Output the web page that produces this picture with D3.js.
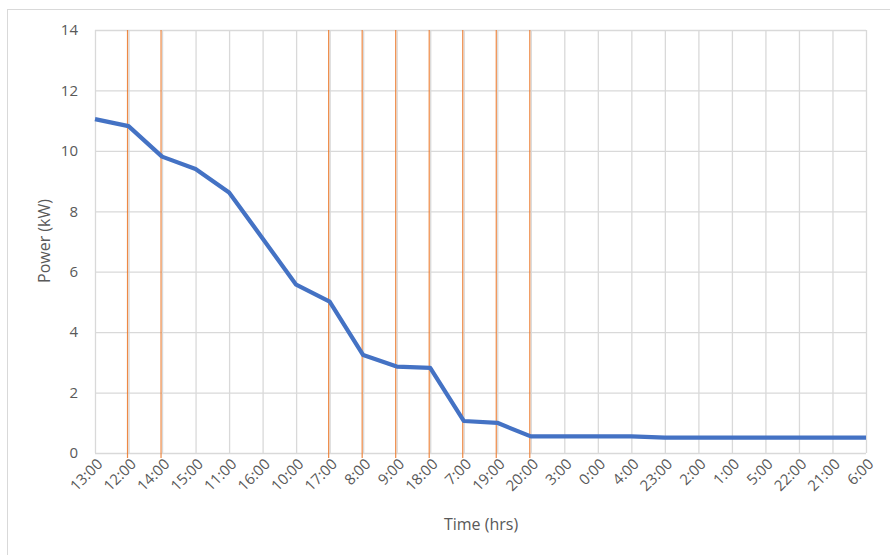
<!DOCTYPE html>
<html><head><meta charset="utf-8">
<script src="https://cdn.jsdelivr.net/npm/d3@7"></script>
<style>body{margin:0;background:#fff;} text{font-family:"Open Sans","Liberation Sans",sans-serif;fill:#595959;}</style>
</head><body>
<svg id="c" width="890" height="555"></svg>
<script>
const categories = ["13:00","12:00","14:00","15:00","11:00","16:00","10:00","17:00","8:00","9:00","18:00","7:00","19:00","20:00","3:00","0:00","4:00","23:00","2:00","1:00","5:00","22:00","21:00","6:00"];
const power = [11.05,10.82,9.81,9.40,8.62,7.10,5.57,5.01,3.24,2.86,2.82,1.06,1.00,0.55,0.55,0.55,0.55,0.51,0.51,0.51,0.51,0.51,0.51,0.51];
const markedTimes = ["12:00","14:00","17:00","8:00","9:00","18:00","7:00","19:00","20:00"];
const yTicks = [0,2,4,6,8,10,12,14];

const svg = d3.select("#c");
const m = {l:95, r:866, t:30, b:453};
svg.append("rect").attr("x",7.5).attr("y",9.5).attr("width",900).attr("height",600)
  .attr("fill","none").attr("stroke","#d9d9d9").attr("stroke-width",1);

const x = d3.scalePoint().domain(categories).range([m.l, m.r]);
const y = d3.scaleLinear().domain([0,14]).range([m.b, m.t]);

const gy = svg.append("g").attr("transform",`translate(${m.l},0)`)
  .call(d3.axisLeft(y).tickValues(yTicks).tickSize(-(m.r-m.l)).tickFormat(""));
gy.select(".domain").remove();
gy.selectAll("line").attr("stroke","#d9d9d9").attr("stroke-width",1.3);

const gx = svg.append("g").attr("transform",`translate(0,${m.b})`)
  .call(d3.axisBottom(x).tickSize(-(m.b-m.t)).tickFormat(""));
gx.select(".domain").remove();
gx.selectAll("line").attr("stroke","#d9d9d9").attr("stroke-width",1.3);

const yl = svg.append("g").attr("transform",`translate(${m.l},0)`)
  .call(d3.axisLeft(y).tickValues(yTicks).tickSize(0).tickPadding(17));
yl.select(".domain").remove();
yl.selectAll("text").attr("font-size",15).style("fill","#595959");

const xl = svg.append("g").attr("transform",`translate(0,${m.b})`)
  .call(d3.axisBottom(x).tickSize(0).tickPadding(0));
xl.select(".domain").remove();
xl.selectAll("text").attr("font-size",15).style("fill","#595959")
  .attr("text-anchor","end").attr("dy",0)
  .attr("transform","translate(8,12) rotate(-45)");

svg.append("g").selectAll("line").data(markedTimes).join("line")
  .attr("x1",d=>x(d)-1).attr("x2",d=>x(d)-1)
  .attr("y1",m.t).attr("y2",m.b+5)
  .attr("stroke","#ed7d31").attr("stroke-width",1.2).attr("opacity",0.9);

svg.append("path").datum(power)
  .attr("fill","none").attr("stroke","#4472c4").attr("stroke-width",4.2)
  .attr("stroke-linejoin","round")
  .attr("d", d3.line().x((d,i)=>x(categories[i])).y(d=>y(d)));

svg.append("text").attr("x",481).attr("y",530).attr("text-anchor","middle")
  .attr("font-size",16).text("Time (hrs)");
svg.append("text").attr("transform","translate(50,241) rotate(-90)").attr("text-anchor","middle")
  .attr("font-size",16).text("Power (kW)");
</script>
</body></html>
